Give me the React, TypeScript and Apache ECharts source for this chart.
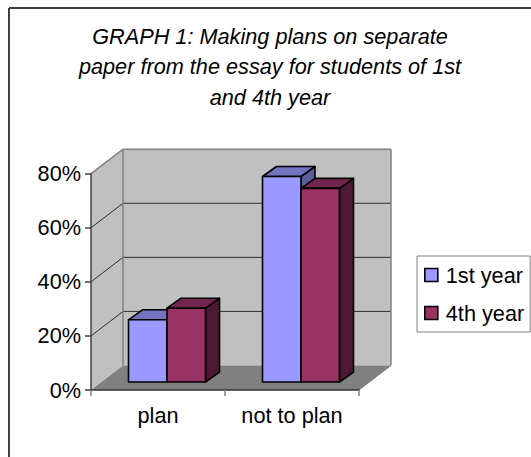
import React, { useEffect, useRef } from "react";
import * as echarts from "echarts";

const titleLines = ["GRAPH 1: Making plans on separate", "paper from the essay for students of 1st", "and 4th year"];
const categories = ["plan", "not to plan"];
const yTicks = [0, 20, 40, 60, 80];
const firstYear = [23, 76];
const fourthYear = [27.3, 71.6];
const seriesNames = ["1st year", "4th year"];

const FONT = "'Liberation Sans', Arial, sans-serif";
const FONT_SIZE = 21.7;
const WALL_DX = 32;
const WALL_DY = -24.5;
const BAR_OFF_X = 9;
const BAR_OFF_Y = -8;
const BAR_W = 38.5;
const BAR_DX = 14;
const BAR_DY = -10;

function wallItem(params: any, api: any) {
  const r = params.coordSys;
  const x0 = r.x, x1 = r.x + r.width, yB = r.y + r.height, yT = r.y;
  const gray = "#808080";
  return {
    type: "group",
    children: [
      { type: "polygon", shape: { points: [[x0 + WALL_DX, yT + WALL_DY], [x1 + WALL_DX, yT + WALL_DY], [x1 + WALL_DX, yB + WALL_DY], [x0 + WALL_DX, yB + WALL_DY]] }, style: { fill: "#C0C0C0", stroke: "none" } },
      { type: "polygon", shape: { points: [[x0, yT], [x0 + WALL_DX, yT + WALL_DY], [x0 + WALL_DX, yB + WALL_DY], [x0, yB]] }, style: { fill: "#C0C0C0", stroke: "none" } },
      { type: "polygon", shape: { points: [[x0, yB], [x1, yB], [x1 + WALL_DX, yB + WALL_DY], [x0 + WALL_DX, yB + WALL_DY]] }, style: { fill: gray, stroke: "none" } },
    ],
  };
}

function gridItem(params: any, api: any) {
  const r = params.coordSys;
  const v = api.value(0);
  const p = api.coord([0, v]);
  const y = p[1];
  const x0 = r.x, x1 = r.x + r.width;
  const top = v === yTicks[yTicks.length - 1];
  const bottom = v === 0;
  if (bottom) return { type: "group", children: [] };
  const color = top ? "#808080" : "#303030";
  const w = top ? 1.5 : 1;
  return {
    type: "group",
    children: [
      { type: "polyline", shape: { points: [[x0, y], [x0 + WALL_DX, y + WALL_DY], [x1 + WALL_DX, y + WALL_DY]] }, style: { fill: "none", stroke: color, lineWidth: w } },
    ],
  };
}

function wallEdges(params: any) {
  const r = params.coordSys;
  const x0 = r.x, x1 = r.x + r.width, yB = r.y + r.height, yT = r.y;
  const s = { stroke: "#808080", lineWidth: 1.5 };
  return {
    type: "group",
    children: [
      { type: "line", shape: { x1: x0 + WALL_DX, y1: yT + WALL_DY, x2: x0 + WALL_DX, y2: yB + WALL_DY }, style: s },
      { type: "line", shape: { x1: x1 + WALL_DX, y1: yT + WALL_DY, x2: x1 + WALL_DX, y2: yB + WALL_DY }, style: s },
      { type: "line", shape: { x1: x1, y1: yB, x2: x1 + WALL_DX, y2: yB + WALL_DY }, style: { stroke: "#808080", lineWidth: 1 } },
    ],
  };
}

function barRenderer(slot: number, front: string, topColor: string, side: string) {
  return (params: any, api: any) => {
    const base = api.coord([api.value(0), 0]);
    const head = api.coord([api.value(0), api.value(1)]);
    const xl = base[0] + BAR_OFF_X + (slot - 1) * BAR_W;
    const xr = xl + BAR_W;
    const yb = base[1] + BAR_OFF_Y;
    const yt = head[1] + BAR_OFF_Y;
    const s = { stroke: "#000", lineWidth: 1.6, lineJoin: "round" };
    return {
      type: "group",
      children: [
        { type: "polygon", shape: { points: [[xr, yb], [xr + BAR_DX, yb + BAR_DY], [xr + BAR_DX, yt + BAR_DY], [xr, yt]] }, style: { fill: side, ...s } },
        { type: "polygon", shape: { points: [[xl, yt], [xl + BAR_DX, yt + BAR_DY], [xr + BAR_DX, yt + BAR_DY], [xr, yt]] }, style: { fill: topColor, ...s } },
        { type: "rect", shape: { x: xl, y: yt, width: BAR_W, height: yb - yt }, style: { fill: front, ...s } },
      ],
    };
  };
}

export default function App() {
  const ref = useRef<HTMLDivElement>(null);
  useEffect(() => {
    const chart = echarts.init(ref.current!, null, { renderer: "svg" });
    chart.setOption({
      animation: false,
      backgroundColor: "#fff",
      textStyle: { fontFamily: FONT },
      title: {
        text: titleLines.join("\n"),
        left: 270,
        top: 21,
        textAlign: "center",
        padding: 0,
        textStyle: { fontFamily: FONT, fontStyle: "italic", fontWeight: "normal", fontSize: FONT_SIZE, lineHeight: 30.5, color: "#000" },
      },
      grid: { left: 91, right: 172, top: 173.7, bottom: 67, containLabel: false },
      xAxis: {
        type: "category",
        data: categories,
        z: 5,
        axisLine: { lineStyle: { color: "#333", width: 1.5 } },
        axisTick: { show: true, length: 6, lineStyle: { color: "#808080", width: 1.5 } },
        axisLabel: { color: "#000", fontFamily: FONT, fontSize: FONT_SIZE, margin: 14 },
        splitLine: { show: false },
      },
      yAxis: {
        type: "value",
        min: 0,
        max: 80,
        interval: 20,
        z: 5,
        axisLine: { show: true, lineStyle: { color: "#404040", width: 1.5 } },
        axisTick: { show: true, length: 6, lineStyle: { color: "#404040", width: 1.5 } },
        axisLabel: { color: "#000", fontFamily: FONT, fontSize: FONT_SIZE, margin: 10, formatter: "{value}%" },
        splitLine: { show: false },
      },
      legend: {
        data: seriesNames,
        orient: "vertical",
        left: 417,
        top: 256,
        padding: [8, 6, 8, 7],
        itemGap: 16,
        itemWidth: 13,
        itemHeight: 13,
        itemStyle: { borderColor: "#000", borderWidth: 1.6 },
        icon: "rect",
        borderColor: "#808080",
        borderWidth: 1,
        backgroundColor: "#fff",
        textStyle: { color: "#000", fontFamily: FONT, fontSize: FONT_SIZE, padding: [0, 0, 0, 3] },
      },
      graphic: [
        { type: "line", silent: true, shape: { x1: 9, y1: 8, x2: 531, y2: 8 }, style: { stroke: "#404040", lineWidth: 2 } },
        { type: "line", silent: true, shape: { x1: 9, y1: 8, x2: 9, y2: 457 }, style: { stroke: "#404040", lineWidth: 2 } },
      ],
      series: [
        { type: "custom", name: "walls", silent: true, clip: false, z: 1, data: [[0, 0]], renderItem: wallItem },
        { type: "custom", name: "gridlines", silent: true, clip: false, z: 2, data: yTicks.map((t) => [t]), encode: { y: 0 }, renderItem: gridItem },
        { type: "custom", name: "edges", silent: true, clip: false, z: 3, data: [[0, 0]], renderItem: wallEdges },
        { type: "custom", name: seriesNames[0], silent: true, clip: false, z: 4, itemStyle: { color: "#9999FF" }, data: firstYear.map((v, i) => [i, v]), encode: { x: 0, y: 1 }, renderItem: barRenderer(0, "#9999FF", "#7373BF", "#5C5C99") },
        { type: "custom", name: seriesNames[1], silent: true, clip: false, z: 4, itemStyle: { color: "#993366" }, data: fourthYear.map((v, i) => [i, v]), encode: { x: 0, y: 1 }, renderItem: barRenderer(1, "#993366", "#73264D", "#4D1933") },
      ],
    });
    return () => chart.dispose();
  }, []);
  return <div ref={ref} style={{ position: "fixed", left: 0, top: 0, width: 531, height: 457 }} />;
}
